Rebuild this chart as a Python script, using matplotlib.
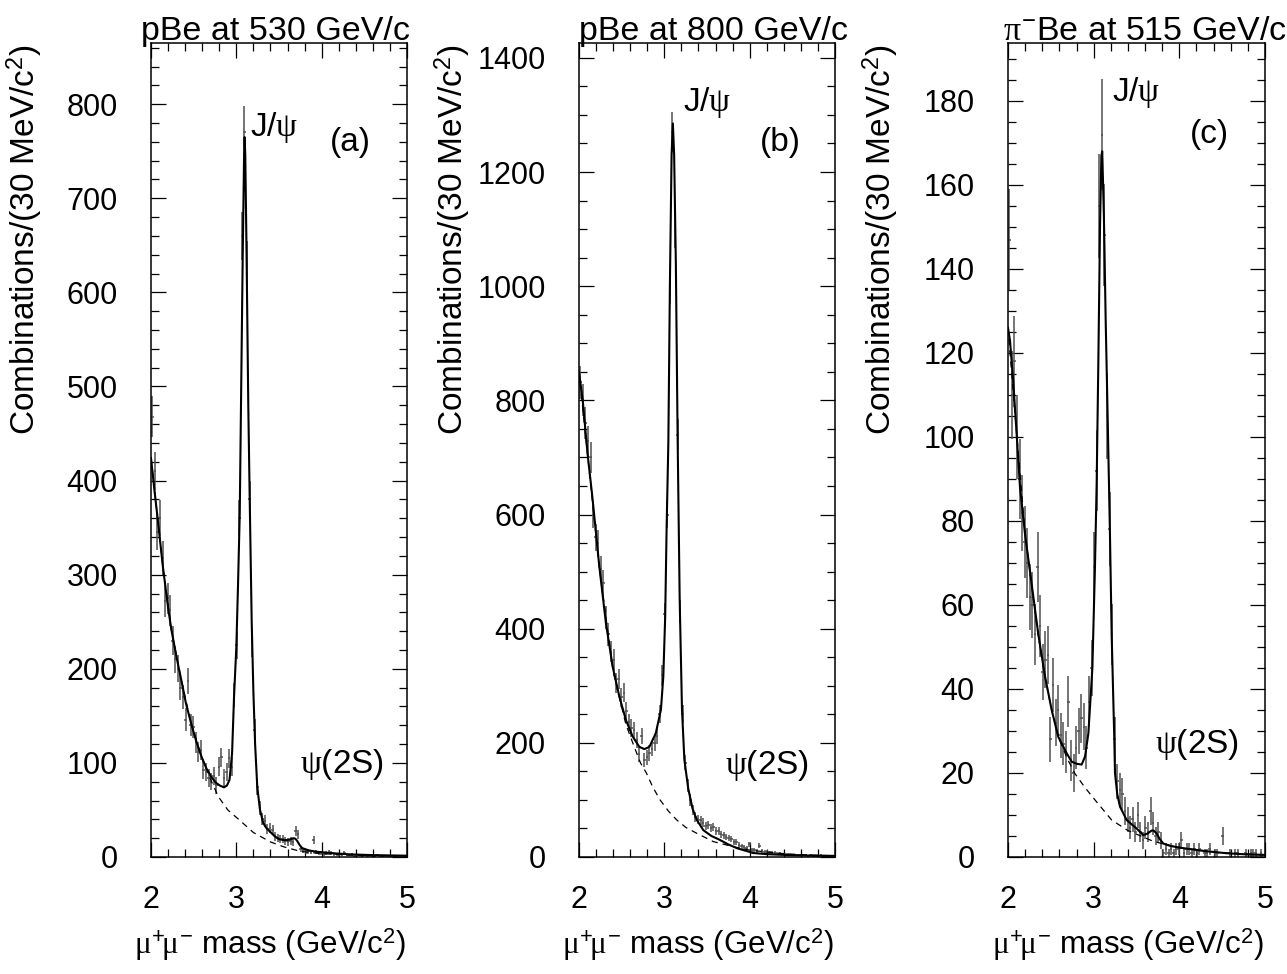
import numpy as np
import matplotlib
matplotlib.use("Agg")
import matplotlib.pyplot as plt
from matplotlib.ticker import MultipleLocator

plt.rcParams['font.family'] = ['Liberation Sans', 'DejaVu Sans']
plt.rcParams['mathtext.fontset'] = 'custom'
plt.rcParams['mathtext.rm'] = 'Liberation Sans'
plt.rcParams['mathtext.it'] = 'Liberation Serif'
plt.rcParams['mathtext.bf'] = 'Liberation Sans:bold'

# ---------------- data ----------------
bin_low = 2.0
bin_width = 0.03
n_bins = 100

counts_a = [468, 410, 345, 360, 318, 272, 275, 262, 230, 210,
            200, 180, 170, 146, 187, 140, 138, 122, 112, 114,
            92, 90, 84, 80, 86, 76, 96, 106, 84, 90,
            105, 96, 172, 225, 360, 660, 770, 630, 380, 228,
            135, 74, 52, 40, 38, 30, 31, 29, 22, 20,
            19, 19, 17, 16, 17, 16, 28, 24, 8, 7,
            6, 6, 5, 18, 5, 4, 4, 3, 4, 5,
            4, 3, 3, 2, 3, 4, 2, 2, 3, 1,
            2, 2, 1, 2, 1, 2, 1, 1, 2, 1,
            1, 0, 1, 1, 0, 1, 0, 1, 0, 1]

counts_b = [832, 800, 760, 728, 700, 600, 560, 550, 505, 480,
            420, 390, 360, 345, 305, 312, 280, 288, 255, 236,
            226, 222, 205, 180, 212, 170, 175, 182, 190, 200,
            212, 250, 318, 425, 600, 1000, 1270, 1100, 740, 430,
            250, 165, 125, 100, 82, 70, 66, 64, 60, 54,
            56, 50, 52, 46, 45, 40, 38, 35, 33, 32,
            27, 26, 21, 19, 17, 15, 22, 13, 12, 11,
            20, 10, 9, 9, 8, 7, 7, 6, 6, 5,
            5, 5, 4, 4, 4, 3, 4, 3, 3, 2,
            3, 2, 2, 2, 3, 2, 1, 2, 1, 1]

counts_c = [147, 110, 118, 100, 90, 82, 75, 70, 62, 60,
            53, 69, 55, 44, 47, 48, 28, 41, 32, 35,
            29, 27, 25, 37, 23, 20, 26, 30, 33, 31,
            26, 37, 45, 69, 92, 155, 172, 148, 105, 78,
            53, 28, 18, 16, 15, 11, 9, 7, 9, 6,
            10, 6, 4, 7, 6, 11, 8, 5, 6, 4,
            1, 2, 1, 2, 1, 2, 2, 4, 1, 2,
            2, 1, 2, 1, 2, 0, 1, 1, 2, 0,
            1, 1, 0, 5, 0, 0, 1, 0, 1, 1,
            0, 0, 1, 0, 1, 1, 1, 0, 1, 0]

# fitted total curves
fit_m_a = [2.0, 2.04, 2.08, 2.14, 2.2, 2.24, 2.3, 2.355, 2.41, 2.47, 2.53, 2.59, 2.65,
           2.707, 2.76, 2.805, 2.855, 2.89, 2.92, 2.95, 2.973, 3.0, 3.02, 3.04, 3.058,
           3.075, 3.09, 3.097, 3.105, 3.12, 3.14, 3.157, 3.18, 3.2, 3.22, 3.245, 3.277,
           3.316, 3.35, 3.394, 3.45, 3.5, 3.55, 3.6, 3.64, 3.668, 3.69, 3.71, 3.74,
           3.77, 3.85, 3.94, 4.1, 4.33, 4.6, 5.0]
fit_v_a = [424, 390, 358, 308, 265, 241, 212, 188, 163, 142, 123, 107, 94,
           85, 79, 76, 74, 76, 82, 110, 170, 223, 290, 365, 507,
           640, 740, 765, 745, 640, 480, 379, 250, 175, 120, 75, 50,
           36, 31, 27, 22, 19, 18, 18, 19, 20, 19.5, 17.5, 13,
           9.5, 7, 5.6, 4.2, 2.8, 2.0, 1.4]
bkg_m_a = [2.0, 2.08, 2.14, 2.24, 2.355, 2.47, 2.59, 2.7, 2.79, 2.9, 3.04, 3.2, 3.4,
           3.55, 3.75, 4.0, 4.5, 5.0]
bkg_v_a = [424, 358, 308, 241, 188, 142, 107, 82, 64, 50, 39, 26, 16,
           11, 6, 3.5, 1.5, 0.7]

fit_m_b = [2.0, 2.012, 2.043, 2.1, 2.16, 2.238, 2.316, 2.395, 2.473, 2.55, 2.629, 2.707,
           2.766, 2.825, 2.9, 2.96, 2.988, 3.01, 3.027, 3.047, 3.065, 3.085, 3.1, 3.115,
           3.135, 3.156, 3.18, 3.207, 3.235, 3.28, 3.33, 3.38, 3.457, 3.55, 3.65, 3.75,
           3.85, 4.04, 4.2, 4.43, 4.7, 5.0]
fit_v_b = [850, 836, 801, 707, 626, 509, 409, 333, 281, 240, 211, 193,
           189, 193, 217, 258, 316, 421, 579, 725, 1000, 1230, 1285, 1230,
           1040, 730, 450, 258, 170, 120, 85, 65, 47, 37, 30, 22,
           15.5, 7, 5, 3.5, 2.5, 2]
bkg_m_b = [2.0, 2.1, 2.24, 2.4, 2.55, 2.65, 2.72, 2.79, 2.863, 2.95, 3.05, 3.145, 3.25,
           3.38, 3.574, 3.81, 4.0, 4.3, 4.6, 5.0]
bkg_v_b = [850, 705, 505, 325, 232, 192, 165, 147, 123, 100, 80, 65, 52,
           41.5, 27, 18, 12, 7, 4, 2]

fit_m_c = [2.0, 2.023, 2.062, 2.1, 2.14, 2.198, 2.276, 2.354, 2.432, 2.51, 2.587, 2.685,
           2.743, 2.8, 2.86, 2.899, 2.938, 2.985, 3.015, 3.035, 3.054, 3.074, 3.09, 3.1,
           3.12, 3.14, 3.163, 3.19, 3.21, 3.241, 3.249, 3.275, 3.307, 3.385, 3.5, 3.58,
           3.63, 3.677, 3.7, 3.735, 3.77, 3.813, 3.9, 4.047, 4.3, 4.55, 4.8, 5.0]
fit_v_c = [126, 123, 113, 101, 88, 77, 65, 53, 43, 35, 28.6, 24.7,
           22.7, 22.2, 22, 23.9, 29.4, 45, 69, 89, 117, 150, 167, 168,
           152, 128, 105, 77, 53, 28, 20, 15, 12, 8.8, 6.8, 5.2,
           5.6, 6.3, 6.3, 5.6, 4.3, 3.2, 2.6, 2.1, 1.4, 0.9, 0.6, 0.5]
bkg_m_c = [2.0, 2.1, 2.2, 2.28, 2.35, 2.43, 2.51, 2.59, 2.69, 2.78, 2.9, 3.015, 3.21,
           3.4, 3.7, 4.0, 4.5, 5.0]
bkg_v_c = [126, 101, 77, 64, 53, 43, 35, 28.5, 23.5, 19.9, 16.5, 13.6, 8.8,
           6.3, 3.7, 2.2, 1.0, 0.5]

titles = ['pBe at 530 GeV/c', 'pBe at 800 GeV/c', r'$\pi^{-}$Be at 515 GeV/c']
panel_tags = ['(a)', '(b)', '(c)']
ylabel = 'Combinations/(30 MeV/c$^{2}$)'
xlabel = r'$\mu^{+}\!\mu^{-}$ mass (GeV/c$^{2}$)'

# ---------------- layout ----------------
W, H = 1287, 974
fig = plt.figure(figsize=(W / 100, H / 100), dpi=100)

panels = [
    dict(left=151, right=407, counts=counts_a, fm=fit_m_a, fv=fit_v_a, bm=bkg_m_a, bv=bkg_v_a,
         ymax=865, major=100, minor=20, title_px=141,
         jpsi=(3.16, 775), tag=(4.10, 759), psi2s=(3.746, 98)),
    dict(left=579, right=835, counts=counts_b, fm=fit_m_b, fv=fit_v_b, bm=bkg_m_b, bv=bkg_v_b,
         ymax=1426, major=200, minor=50, title_px=579,
         jpsi=(3.22, 1321), tag=(4.12, 1251), psi2s=(3.71, 161)),
    dict(left=1008, right=1265, counts=counts_c, fm=fit_m_c, fv=fit_v_c, bm=bkg_m_c, bv=bkg_v_c,
         ymax=193.8, major=20, minor=5, title_px=1003,
         jpsi=(3.214, 182), tag=(4.124, 172), psi2s=(3.716, 26.7)),
]

top_px, bot_px = 43, 857
centers = np.round(bin_low + bin_width * (np.arange(n_bins) + 0.5), 4)

for i, p in enumerate(panels):
    width_px = p['right'] - p['left']
    ax = fig.add_axes([p['left'] / W, 1 - bot_px / H, width_px / W,
                       (bot_px - top_px) / H])
    y = np.array(p['counts'], dtype=float)
    err = np.sqrt(y)
    nz = y > 0
    ax.errorbar(centers[nz], y[nz], yerr=err[nz], xerr=bin_width / 2, fmt='none',
                ecolor='#505050', elinewidth=1.1, capsize=0, zorder=2)
    ax.plot(p['fm'], p['fv'], color='black', lw=1.5, zorder=3)
    ax.plot(p['bm'], p['bv'], color='black', lw=0.9, linestyle=(0, (5, 4)), zorder=3)

    ax.set_xlim(2, 5)
    ax.set_ylim(0, p['ymax'])
    ax.xaxis.set_major_locator(MultipleLocator(1))
    ax.xaxis.set_minor_locator(MultipleLocator(0.2))
    ax.yaxis.set_major_locator(MultipleLocator(p['major']))
    ax.yaxis.set_minor_locator(MultipleLocator(p['minor']))
    ax.tick_params(which='both', direction='in', top=True, right=True,
                   labelsize=22, width=0.9)
    ax.tick_params(axis='x', pad=20)
    ax.tick_params(axis='y', pad=24)
    ax.tick_params(which='major', length=11)
    ax.tick_params(which='minor', length=6)
    for s in ax.spines.values():
        s.set_linewidth(1.1)

    ax.text((p['title_px'] - p['left']) / width_px, 1.004, titles[i], transform=ax.transAxes,
            ha='left', va='baseline', fontsize=24.5)
    ax.text(-0.494, 0.998, ylabel, transform=ax.transAxes, ha='center', va='top',
            rotation=90, fontsize=24)
    ax.text(0.995, -0.108, xlabel, transform=ax.transAxes, ha='right', va='center',
            fontsize=22.5)
    ax.text(p['jpsi'][0], p['jpsi'][1], r'J/$\psi$', ha='left', va='center', fontsize=24)
    ax.text(p['tag'][0], p['tag'][1], panel_tags[i], ha='left', va='center', fontsize=24)
    ax.text(p['psi2s'][0], p['psi2s'][1], r'$\psi$(2S)', ha='left', va='center', fontsize=24)

fig.savefig('out.png', dpi=100)
